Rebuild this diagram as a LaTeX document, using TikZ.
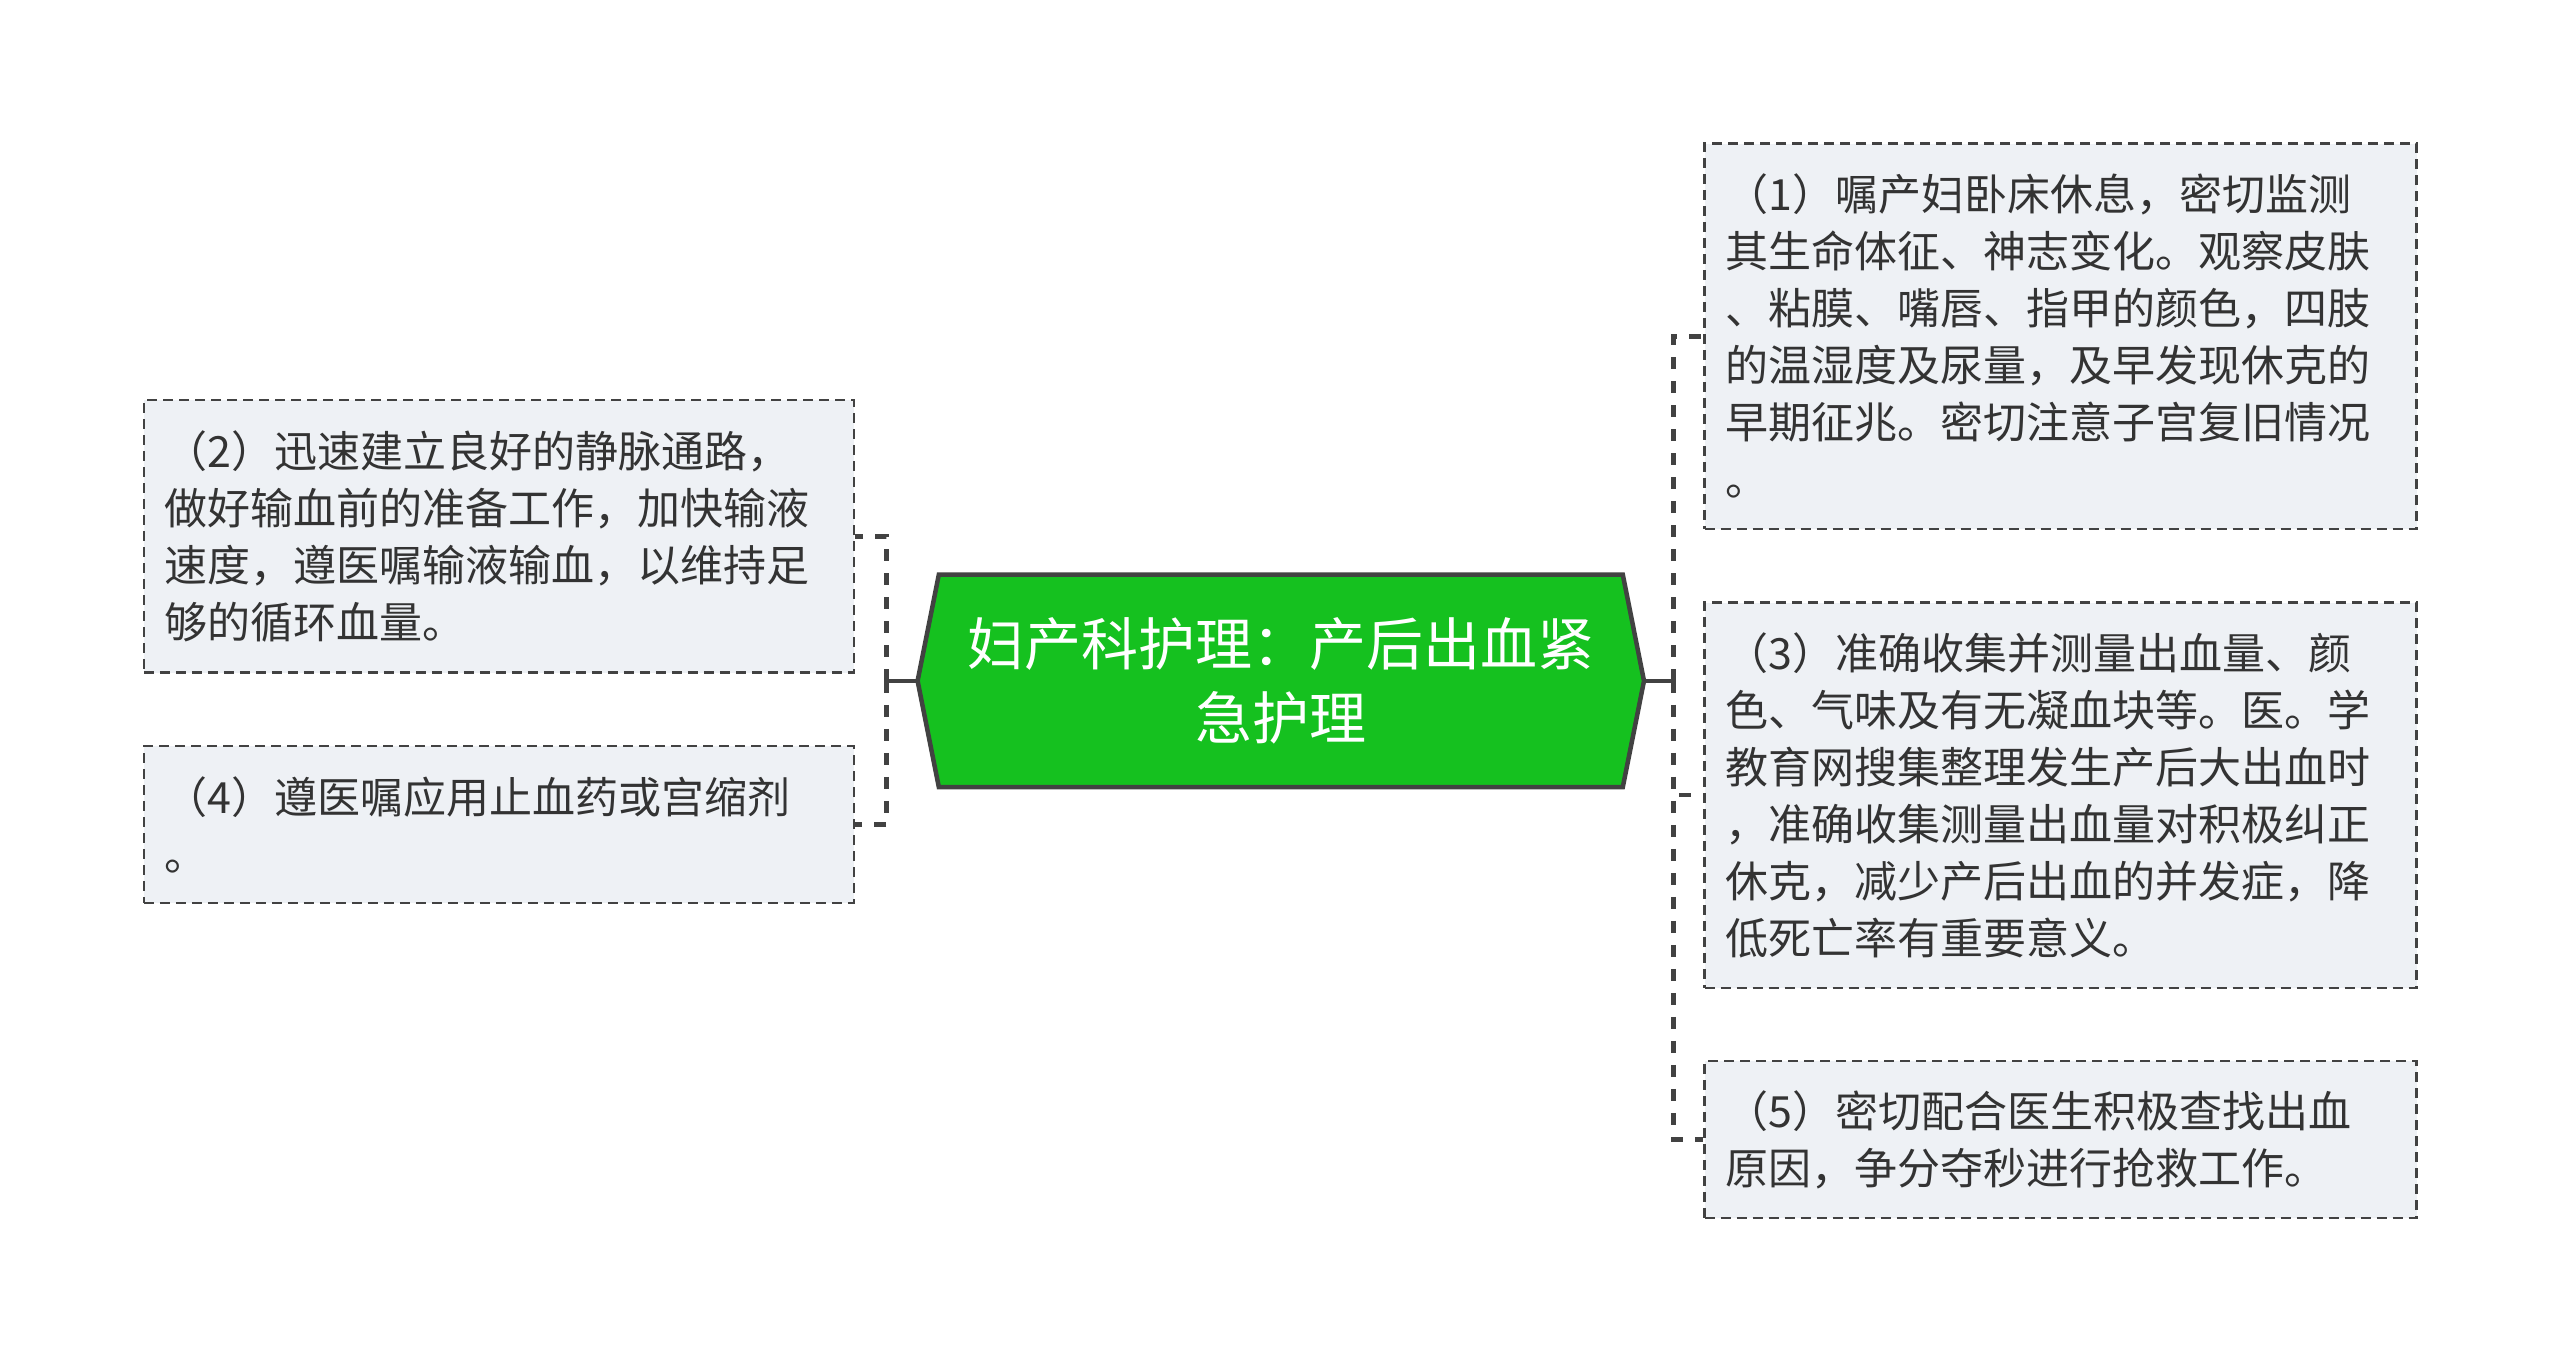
\documentclass[tikz,border=0pt]{standalone}
\usepackage{fontspec}
\newfontfamily\cjk{Noto Sans CJK SC}
\definecolor{textc}{HTML}{333333}
\definecolor{linec}{HTML}{424242}
\definecolor{boxfill}{HTML}{EEF1F5}
\definecolor{rootfill}{HTML}{15C11F}
\begin{document}
\begin{tikzpicture}[x=1pt,y=-1pt,
  leaf/.style={draw=linec, line width=2.6pt, dash pattern=on 10pt off 6pt,
    fill=boxfill, text=textc, font=\cjk\fontsize{43}{57}\selectfont,
    align=left, inner xsep=21pt, inner ysep=0pt, anchor=center},
  conn/.style={draw=linec, line width=4.5pt, dash pattern=on 12pt off 12pt},
  connsolid/.style={draw=linec, line width=4.5pt},
  rootshape/.style={draw=linec, line width=4.5pt, fill=rootfill, line join=miter}
]
\useasboundingbox[fill=white] (0,0) rectangle (2560,1361);

% central hexagon
\draw[rootshape] (917.6,680.9) -- (938.8,574.7) -- (1622.8,574.7) -- (1644,680.9)
  -- (1622.8,787) -- (938.8,787) -- cycle;
\node[minimum width=726.4pt, minimum height=212.3pt, inner sep=0pt, text=white,
  font=\cjk\fontsize{57}{73.5}\selectfont, align=center] (c) at (1280.8,680.9)
  {妇产科护理：产后出血紧\\急护理};

% left boxes
\node[leaf, text width=668pt, minimum height=272.7pt] (b2) at (498.8,536.4)
  {（2）迅速建立良好的静脉通路，\\做好输血前的准备工作，加快输液\\速度，遵医嘱输液输血，以维持足\\够的循环血量。};
\node[leaf, text width=668pt, minimum height=157pt] (b4) at (498.8,824.5)
  {（4）遵医嘱应用止血药或宫缩剂\\。};

% right boxes
\node[leaf, text width=670pt, minimum height=385.3pt] (b1) at (2060.5,336.4)
  {（1）嘱产妇卧床休息，密切监测\\其生命体征、神志变化。观察皮肤\\、粘膜、嘴唇、指甲的颜色，四肢\\的温湿度及尿量，及早发现休克的\\早期征兆。密切注意子宫复旧情况\\。};
\node[leaf, text width=670pt, minimum height=385.3pt] (b3) at (2060.5,795.2)
  {（3）准确收集并测量出血量、颜\\色、气味及有无凝血块等。医。学\\教育网搜集整理发生产后大出血时\\，准确收集测量出血量对积极纠正\\休克，减少产后出血的并发症，降\\低死亡率有重要意义。};
\node[leaf, text width=670pt, minimum height=157pt] (b5) at (2060.5,1139.5)
  {（5）密切配合医生积极查找出血\\原因，争分夺秒进行抢救工作。};

% connectors
\coordinate (lj) at (886.5,680.9);
\coordinate (rj) at (1673.5,680.9);
\draw[connsolid] (c.west) -- (lj);
\draw[connsolid] (c.east) -- (rj);
\draw[conn] (lj) |- (b2.east);
\draw[conn] (lj) |- (b4.east);
\draw[conn] (rj) |- (b1.west);
\draw[conn] (rj) |- (b3.west);
\draw[conn] (rj) |- (b5.west);
\end{tikzpicture}
\end{document}
